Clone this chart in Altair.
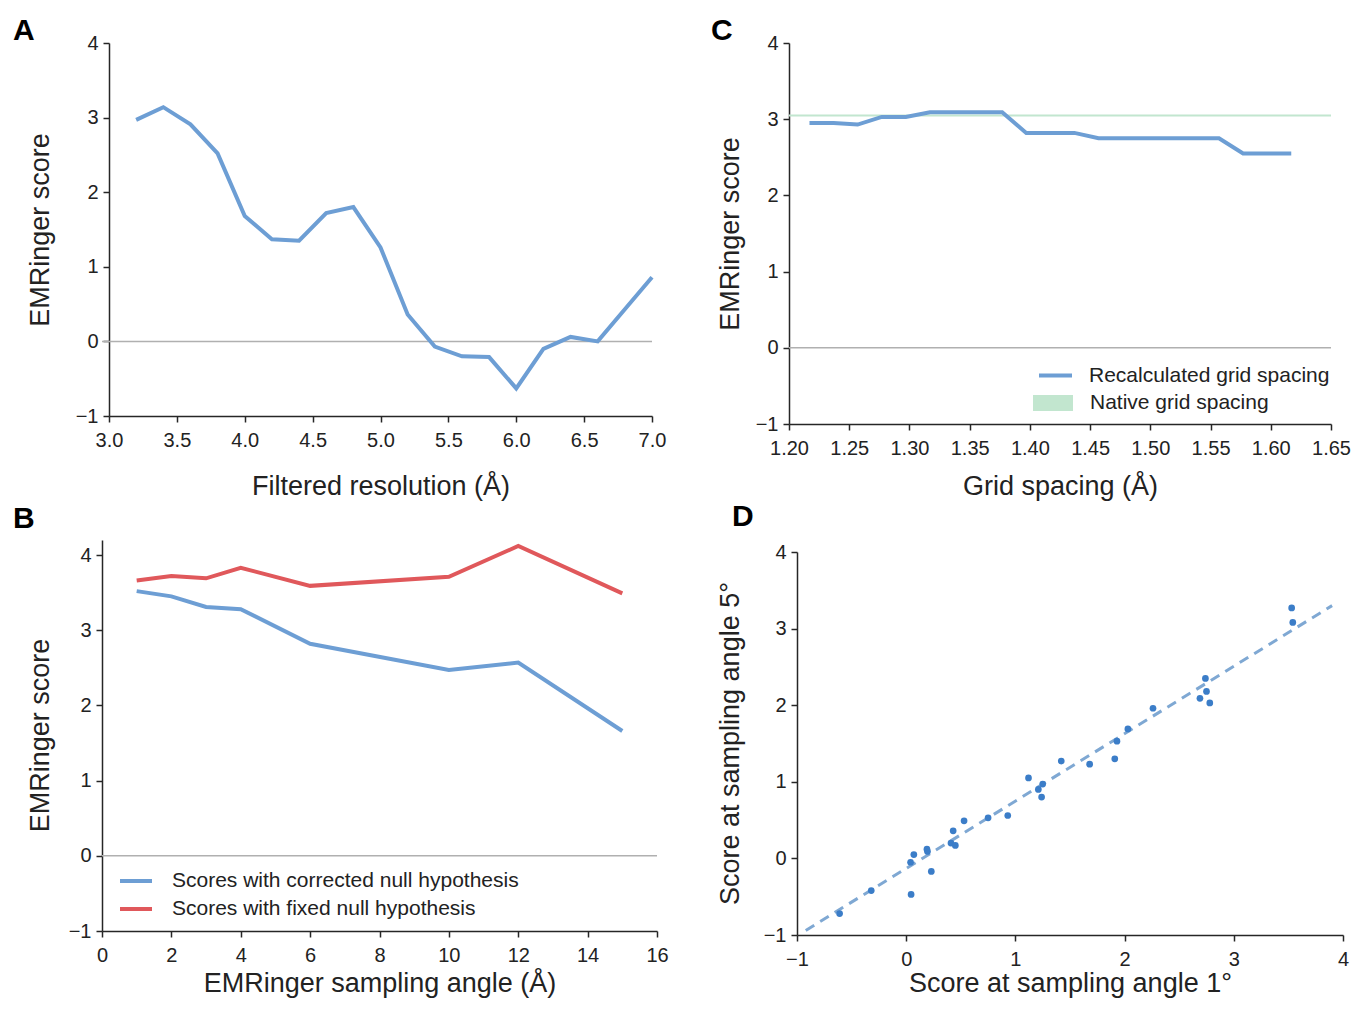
import altair as alt
import pandas as pd

FONT = "Liberation Sans, Arial, Helvetica, sans-serif"
BLUE = "#6d9ed4"
RED = "#e0585b"
GREEN = "#c2e6cf"
DOT = "#3b7dc8"
DASH = "#7fa8d3"
ZERO = "#b0b0b0"
AXIS = "#262626"

# ---------------- data ----------------
# Panel A
a_res = [3.2, 3.4, 3.6, 3.8, 4.0, 4.2, 4.4, 4.6, 4.8, 5.0,
         5.2, 5.4, 5.6, 5.8, 6.0, 6.2, 6.4, 6.6, 6.8, 7.0]
a_score = [2.97, 3.14, 2.91, 2.52, 1.68, 1.37, 1.35, 1.72, 1.80, 1.26,
           0.36, -0.07, -0.20, -0.21, -0.63, -0.10, 0.06, 0.00, 0.43, 0.86]
a_xticks = [3.0, 3.5, 4.0, 4.5, 5.0, 5.5, 6.0, 6.5, 7.0]

# Panel B
b_angle = [1, 2, 3, 4, 6, 10, 12, 15]
b_corrected = [3.52, 3.45, 3.31, 3.28, 2.82, 2.47, 2.57, 1.66]
b_fixed = [3.66, 3.72, 3.69, 3.83, 3.59, 3.71, 4.12, 3.49]
b_series = ["Scores with corrected null hypothesis", "Scores with fixed null hypothesis"]
b_xticks = [0, 2, 4, 6, 8, 10, 12, 14, 16]

# Panel C
c_spacing = [1.217, 1.237, 1.257, 1.277, 1.297, 1.317, 1.337, 1.357, 1.377, 1.397, 1.417,
             1.437, 1.457, 1.477, 1.497, 1.517, 1.537, 1.557, 1.577, 1.597, 1.617]
c_score = [2.95, 2.95, 2.93, 3.03, 3.03, 3.09, 3.09, 3.09, 3.09, 2.82, 2.82,
           2.82, 2.75, 2.75, 2.75, 2.75, 2.75, 2.75, 2.55, 2.55, 2.55]
c_native = 3.05
c_xticks = [1.20, 1.25, 1.30, 1.35, 1.40, 1.45, 1.50, 1.55, 1.60, 1.65]
c_series = ["Recalculated grid spacing", "Native grid spacing"]

# Panel D
d_angle1 = [-0.61, -0.32, 0.045, 0.04, 0.07, 0.19, 0.195, 0.23, 0.41, 0.43,
            0.45, 0.53, 0.75, 0.93, 1.12, 1.21, 1.25, 1.24, 1.42, 1.68,
            1.91, 1.93, 2.03, 2.26, 2.69, 2.74, 2.75, 2.78, 3.53, 3.54]
d_angle5 = [-0.72, -0.42, -0.47, -0.05, 0.05, 0.12, 0.09, -0.17, 0.20, 0.36,
            0.17, 0.49, 0.53, 0.56, 1.05, 0.90, 0.97, 0.80, 1.27, 1.23,
            1.30, 1.53, 1.69, 1.96, 2.09, 2.35, 2.18, 2.03, 3.27, 3.08]
d_fit_x = [-0.92, 3.90]
d_fit_y = [-0.94, 3.30]
d_ticks = [-1, 0, 1, 2, 3, 4]

y_ticks = [-1, 0, 1, 2, 3, 4]

# ---------------- frames ----------------
df_a = pd.DataFrame({"x": a_res, "y": a_score})
df_b = pd.DataFrame({
    "x": b_angle + b_angle,
    "y": b_corrected + b_fixed,
    "series": [b_series[0]] * len(b_angle) + [b_series[1]] * len(b_angle),
})
df_c = pd.DataFrame({"x": c_spacing, "y": c_score, "series": c_series[0]})
df_cn = pd.DataFrame({"x": [c_xticks[0]], "x2": [c_xticks[-1]], "y": [c_native],
                      "series": [c_series[1]]})
df_d = pd.DataFrame({"x": d_angle1, "y": d_angle5})
df_fit = pd.DataFrame({"x": d_fit_x, "y": d_fit_y})
zero_df = pd.DataFrame({"y": [0]})


def label(t, x, y):
    return alt.Chart(pd.DataFrame({"t": [t]})).mark_text(
        font=FONT, fontSize=30, fontWeight="bold", align="left",
        baseline="alphabetic", color="black"
    ).encode(text="t:N", x=alt.value(x), y=alt.value(y))


def make_x(domain, values, fmt, title, ty, rng=None):
    sc = alt.Scale(domain=domain, nice=False, zero=False)
    if rng is not None:
        sc = alt.Scale(domain=domain, range=rng, nice=False, zero=False)
    return alt.X("x:Q", scale=sc,
                 axis=alt.Axis(values=values, format=fmt, title=title, titleY=ty,
                               titleBaseline="middle", titleAlign="center", labelPadding=8))


def make_y(domain, title, tx, ty, offset=0, rng=None):
    sc = alt.Scale(domain=domain, nice=False, zero=False)
    if rng is not None:
        sc = alt.Scale(domain=domain, range=rng, nice=False, zero=False)
    return alt.Y("y:Q", scale=sc,
                 axis=alt.Axis(values=y_ticks, format="d", title=title, titleX=tx, titleY=ty,
                               titleBaseline="middle", titleAlign="center", offset=offset))


def zero_rule(y_enc):
    return alt.Chart(zero_df).mark_rule(color=ZERO, strokeWidth=1.5).encode(y=y_enc)


# ---------------- panel A ----------------
A_W, A_H = 550, 373
xa = make_x([3.0, 7.0], a_xticks, ".1f", "Filtered resolution (Å)", 70, rng=[7, A_W])
ya = make_y([-1, 4], "EMRinger score", -69, A_H / 2, offset=-7)
panel_a = alt.layer(
    zero_rule(ya),
    alt.Chart(df_a).mark_line(color=BLUE, strokeWidth=4).encode(x=xa, y=ya),
    label("A", -89, -3),
).properties(width=A_W, height=A_H)

# ---------------- panel C ----------------
C_W, C_H = 542, 381
xc = make_x([1.20, 1.65], c_xticks, ".2f", "Grid spacing (Å)", 62)
yc = make_y([-1, 4], "EMRinger score", -59, C_H / 2)
panel_c = alt.layer(
    zero_rule(yc),
    alt.Chart(df_cn).mark_rect(stroke=GREEN, strokeWidth=2).encode(
        x=xc, x2="x2:Q", y=yc, y2="y:Q",
        fill=alt.Fill("series:N", scale=alt.Scale(domain=[c_series[1]], range=[GREEN]),
                      legend=alt.Legend(title=None, orient="none", legendX=244, legendY=340,
                                        symbolType="M-1,-0.4H1V0.4H-1Z", symbolSize=1600,
                                        symbolStrokeWidth=0, labelOffset=17, padding=0,
                                        labelLimit=0)),
    ),
    alt.Chart(df_c).mark_line(strokeWidth=4).encode(
        x=xc, y=yc,
        stroke=alt.Stroke("series:N", scale=alt.Scale(domain=[c_series[0]], range=[BLUE]),
                          legend=alt.Legend(title=None, orient="none", legendX=248, legendY=314,
                                            symbolType="stroke", symbolSize=1089,
                                            symbolStrokeWidth=4, labelOffset=15, padding=0,
                                            labelLimit=0)),
    ),
    label("C", -78, -3),
).properties(width=C_W, height=C_H)

# ---------------- panel B ----------------
B_W, B_H = 555, 391
xb = make_x([0, 16], b_xticks, "d", "EMRinger sampling angle (Å)", 52)
yb = make_y([-1, 4.2], "EMRinger score", -62, 195)
panel_b = alt.layer(
    zero_rule(yb),
    alt.Chart(df_b).mark_line(strokeWidth=4).encode(
        x=xb, y=yb,
        stroke=alt.Stroke("series:N", scale=alt.Scale(domain=b_series, range=[BLUE, RED]),
                          legend=alt.Legend(title=None, orient="none", legendX=16, legendY=323,
                                            symbolType="stroke", symbolSize=1024,
                                            symbolStrokeWidth=4, labelOffset=18,
                                            rowPadding=-1, padding=0, labelLimit=0)),
    ),
    label("B", -89, -12),
).properties(width=B_W, height=B_H)

# ---------------- panel D ----------------
D_W, D_H = 554, 395
xd = make_x([-1, 4], d_ticks, "d", "Score at sampling angle 1°", 48, rng=[8, D_W])
yd = make_y([-1, 4], "Score at sampling angle 5°", -67, 203, offset=-8, rng=[D_H, 12])
panel_d = alt.layer(
    alt.Chart(df_fit).mark_line(color=DASH, strokeWidth=3, strokeDash=[10, 7]).encode(x=xd, y=yd),
    alt.Chart(df_d).mark_circle(color=DOT, size=45, opacity=1).encode(x=xd, y=yd),
    label("D", -57, -14),
).properties(width=D_W, height=D_H)

chart = alt.concat(
    panel_a, panel_c, panel_b, panel_d,
    columns=2, spacing={"row": 116, "column": 132}, bounds="flush",
).resolve_scale(
    stroke="independent", fill="independent"
).configure_axis(
    domainColor=AXIS, domainWidth=1.5, tickColor=AXIS, tickWidth=1.5, tickSize=6,
    grid=False, labelFont=FONT, labelFontSize=20, labelColor="#222",
    titleFont=FONT, titleFontSize=27, titleFontWeight="normal", titleColor="#222",
    labelFlush=False, labelOverlap=False, labelPadding=5,
).configure_legend(
    labelFont=FONT, labelFontSize=21, labelColor="#222",
).configure_view(strokeWidth=0).properties(
    background="white", padding={"top": 8, "left": 5, "right": 0, "bottom": 3}
)

chart.save("out.html", embed_options={"renderer": "svg", "actions": False})
